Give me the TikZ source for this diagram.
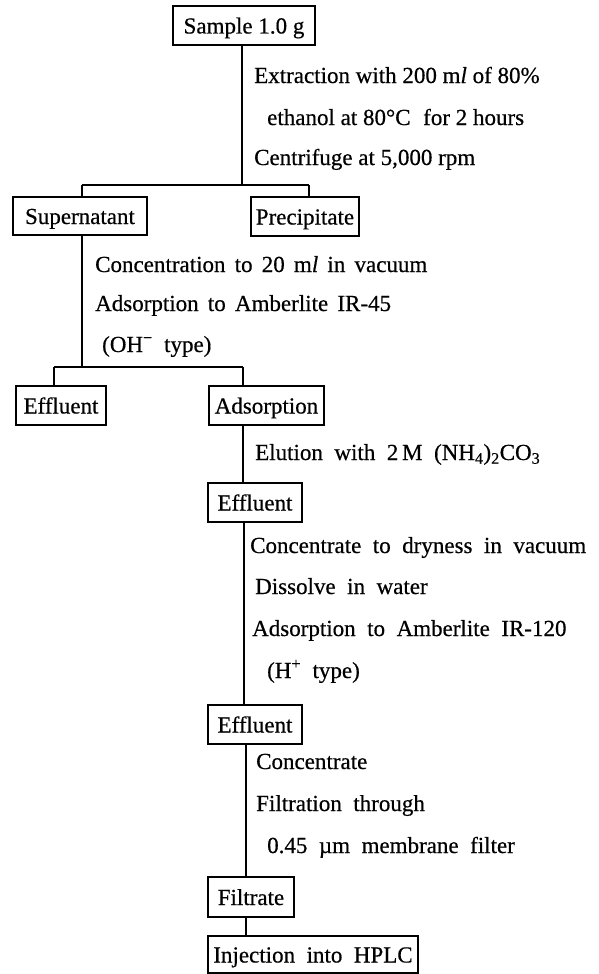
\documentclass[tikz,border=0pt]{standalone}
\usepackage{fontspec}
\setmainfont{Liberation Serif}[FakeBold=0.5]
\newcommand{\wsp}{\spaceskip=0.5em plus 0.1em\relax}
\newcommand{\wspn}{\spaceskip=0.4em plus 0.1em\relax}
\begin{document}
\begin{tikzpicture}[x=1pt,y=-1pt,
  every node/.style={font=\fontsize{23}{28}\selectfont},
  box/.style={draw,line width=1.4pt,inner sep=0pt,text height=16pt,text depth=0pt},
  lbl/.style={anchor=base west,inner sep=0pt},
  conn/.style={line width=1.4pt}]
\useasboundingbox[fill=white] (0,0) rectangle (598,974);
% boxes
\node[box,minimum width=142pt,minimum height=39pt] (sample) at (244,25.5) {Sample 1.0 g};
\node[box,minimum width=134pt,minimum height=38pt] (super) at (80,216) {Supernatant};
\node[box,minimum width=108pt,minimum height=39pt] (precip) at (305,216.5) {Precipitate};
\node[box,minimum width=90pt,minimum height=39pt] (eff1) at (61,405.5) {Effluent};
\node[box,minimum width=115pt,minimum height=39pt] (adsorp) at (266.5,405.5) {Adsorption};
\node[box,minimum width=94pt,minimum height=39pt] (eff2) at (255,502.5) {Effluent};
\node[box,minimum width=94pt,minimum height=39pt] (eff3) at (255,724.5) {Effluent};
\node[box,minimum width=86pt,minimum height=40pt] (filt) at (251,897) {Filtrate};
\node[box,minimum width=210pt,minimum height=37pt] (inj) at (313,954.5) {\wsp Injection into HPLC};
% labels
\node[lbl] (t1) at (254,83) {Extraction with 200 m\textit{l} of 80\%};
\node[lbl] (t2) at (267,125) {ethanol at 80°C\hspace{0.3em} for 2 hours};
\node[lbl] (t3) at (254,165) {Centrifuge at 5,000 rpm};
\node[lbl] (t4) at (95,272) {\wspn Concentration to 20 m\textit{l} in vacuum};
\node[lbl] (t5) at (95,311) {\wspn Adsorption to Amberlite IR-45};
\node[lbl] (t6) at (102,352) {\wsp (OH\textsuperscript{−} type)};
\node[lbl] (t7) at (255,460) {\wsp Elution with 2\,M (NH\textsubscript{4})\textsubscript{2}CO\textsubscript{3}};
\node[lbl] (t8) at (250,553) {\wsp Concentrate to dryness in vacuum};
\node[lbl] (t9) at (255,594) {\wsp Dissolve in water};
\node[lbl] (t10) at (252,636) {\wsp Adsorption to Amberlite IR-120};
\node[lbl] (t11) at (267,678) {\wsp (H\textsuperscript{+} type)};
\node[lbl] (t12) at (256,769) {\wsp Concentrate};
\node[lbl] (t13) at (256,811) {\wsp Filtration through};
\node[lbl] (t14) at (267,853) {\wsp 0.45 µm membrane filter};
% junctions
\coordinate (j1) at (242,185);
\coordinate (j1l) at (82,185);
\coordinate (j1r) at (309,185);
\coordinate (j2) at (82,367);
\coordinate (j2l) at (54,367);
\coordinate (j2r) at (243,367);
\coordinate (c3) at (244,0);
\coordinate (c4) at (246,0);
% connectors
\draw[conn] (sample.south -| j1) -- (j1);
\draw[conn] (j1l) -- (j1r);
\draw[conn] (j1l) -- (super.north -| j1l);
\draw[conn] (j1r) -- (precip.north -| j1r);
\draw[conn] (super.south -| j2) -- (j2);
\draw[conn] (j2l) -- (j2r);
\draw[conn] (j2l) -- (eff1.north -| j2l);
\draw[conn] (j2r) -- (adsorp.north -| j2r);
\draw[conn] (adsorp.south -| j2r) -- (eff2.north -| j2r);
\draw[conn] (eff2.south -| c3) -- (eff3.north -| c3);
\draw[conn] (eff3.south -| c4) -- (filt.north -| c4);
\draw[conn] (filt.south -| c4) -- (inj.north -| c4);
\end{tikzpicture}
\end{document}
